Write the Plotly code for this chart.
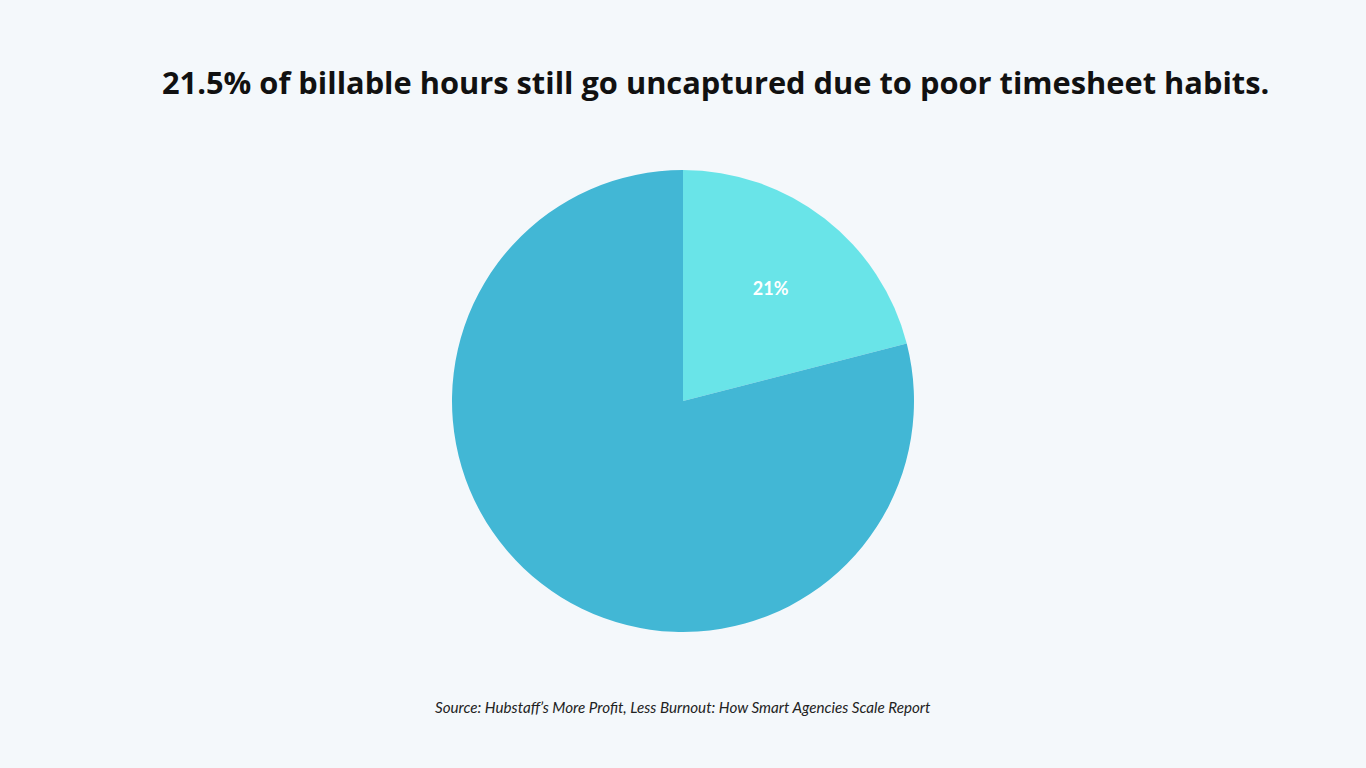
import plotly.graph_objects as go

labels = ["Uncaptured billable hours", "Captured billable hours"]
values = [21, 79]
text_labels = ["21%", ""]
colors = ["#69E4E8", "#42B7D5"]

title_text = "21.5% of billable hours still go uncaptured due to poor timesheet habits."
source_text = "Source: Hubstaff\u2019s More Profit, Less Burnout: How Smart Agencies Scale Report"

fig = go.Figure(go.Pie(
    labels=labels,
    values=values,
    text=text_labels,
    textinfo="text",
    textposition="inside",
    insidetextorientation="horizontal",
    sort=False,
    direction="clockwise",
    rotation=0,
    marker=dict(colors=colors, line=dict(width=0)),
    textfont=dict(family="Lato", size=18, color="white", weight="bold"),
    hoverinfo="label+percent",
    showlegend=False,
    domain=dict(x=[0, 1], y=[1 - 632 / 768, 1 - 170 / 768]),
))

fig.update_layout(
    width=1366, height=768,
    margin=dict(l=0, r=0, t=0, b=0),
    paper_bgcolor="#F4F8FB",
    plot_bgcolor="#F4F8FB",
    annotations=[
        dict(text=title_text, x=715 / 1366, y=1 - 82 / 768, xref="paper", yref="paper",
             showarrow=False, xanchor="center", yanchor="middle",
             font=dict(family="Open Sans", size=30.8, color="#111111", weight="bold")),
        dict(text="<i>" + source_text + "</i>", x=683 / 1366, y=1 - 707 / 768, xref="paper", yref="paper",
             showarrow=False, xanchor="center", yanchor="middle",
             font=dict(family="Lato", size=15.2, color="#222222")),
    ],
)

fig.write_html("out.html")
